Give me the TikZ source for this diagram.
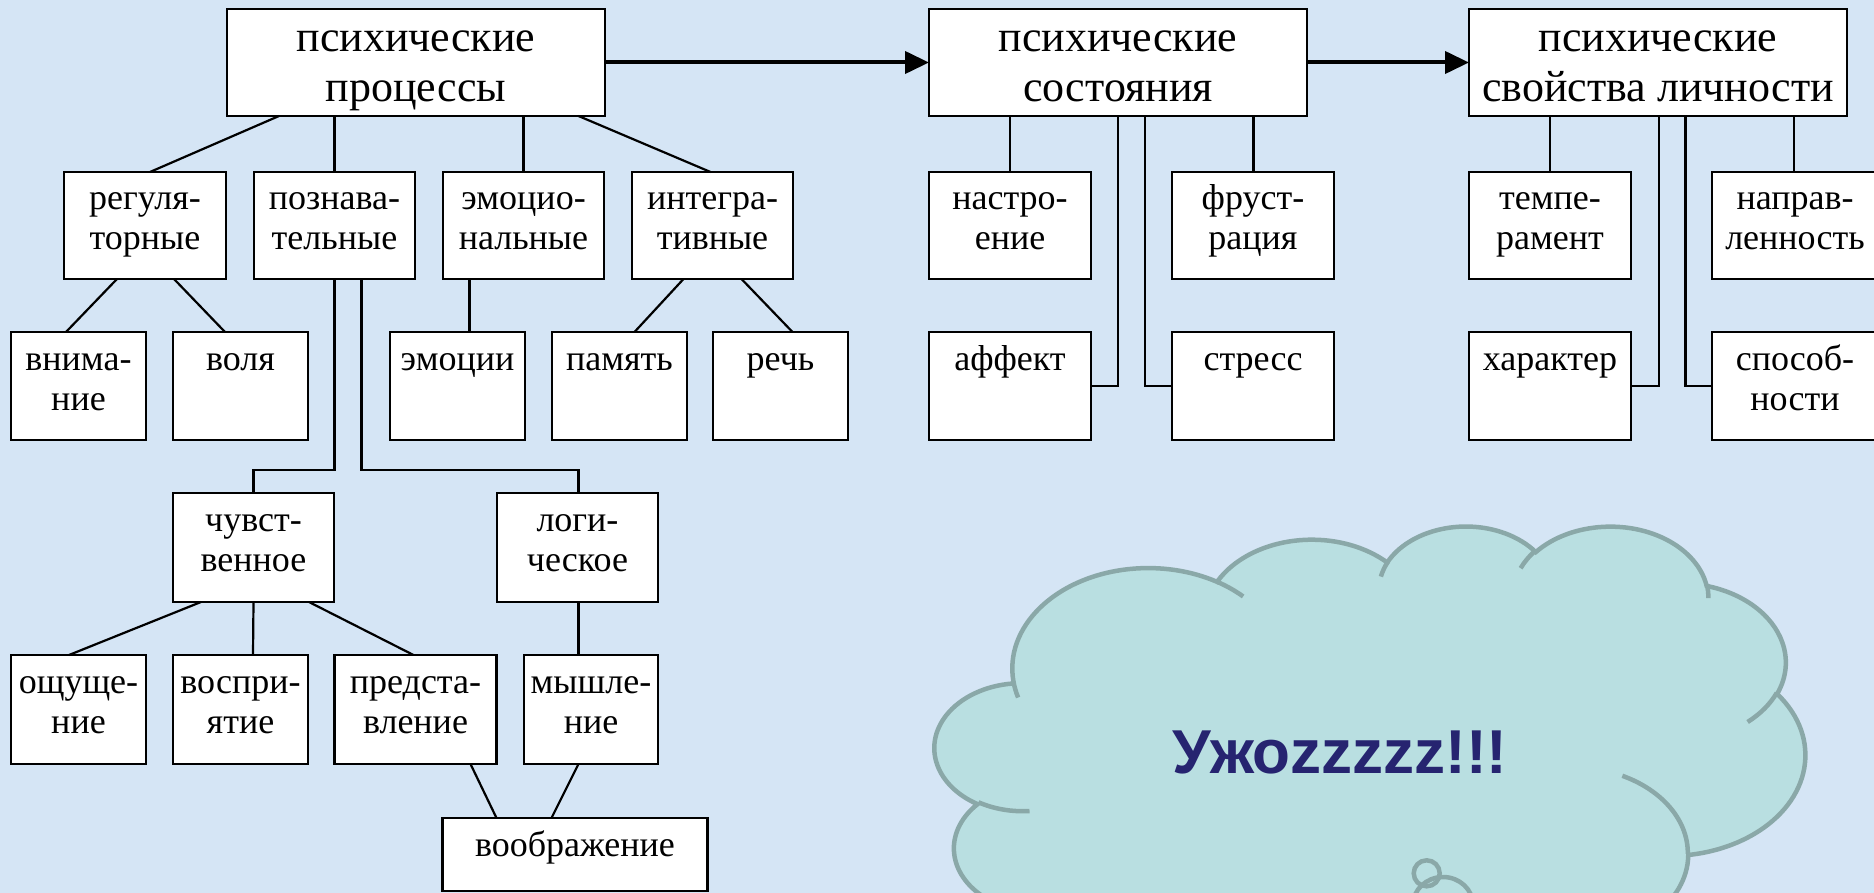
\documentclass[tikz,border=0pt]{standalone}
\usepackage{fontspec}
\setmainfont{Liberation Serif}
\newfontfamily\cloudfont{Liberation Sans}
\usetikzlibrary{arrows.meta,calc}
\definecolor{bg}{RGB}{213,229,245}
\definecolor{cloudfill}{RGB}{185,223,225}
\definecolor{cloudline}{RGB}{138,168,168}
\definecolor{navy}{RGB}{38,36,112}
\tikzset{
  bx/.style={draw=black, fill=white, line width=2.6pt, inner sep=0pt, outer sep=0pt, anchor=north west, font=\fontsize{36}{40}\selectfont},
  topbx/.style={bx, font=\fontsize{44}{50}\selectfont},
  ln/.style={line width=2.2pt},
  arr/.style={line width=4pt, -{Triangle[length=24pt,width=22pt]}},
  cl/.style={draw=cloudline, line width=4.5pt},
}
\newcommand\bt[3]{\parbox[t][#2pt][t]{#1pt}{\centering\rule{0pt}{38pt}#3}}
\newcommand\tbt[1]{\parbox[t][107pt][t]{378pt}{\centering\rule{0pt}{42.7pt}#1}}
\newcommand\carc[4]{arc[x radius=#1, y radius=#2, start angle={atan2(#1*sin(#3),#2*cos(#3))}, delta angle={mod(atan2(#1*sin(#3+#4),#2*cos(#3+#4))-atan2(#1*sin(#3),#2*cos(#3))+720,360)}]}
\begin{document}
\begin{tikzpicture}[x=1pt, y=-1pt]
\useasboundingbox (0,0) rectangle (1874,893);
\clip (0,0) rectangle (1874,893);
\fill[bg] (0,0) rectangle (1874,893);

% top row
\node[topbx] (A) at (227,9) {\tbt{психические\\процессы}};
\node[topbx] (B) at (929,9) {\tbt{психические\\состояния}};
\node[topbx] (C) at (1469,9) {\tbt{психические\\свойства личности}};

% row 2
\node[bx] (R1) at (64,172) {\bt{162}{107}{регуля-\\торные}};
\node[bx] (R2) at (254,172) {\bt{161}{107}{познава-\\тельные}};
\node[bx] (R3) at (443,172) {\bt{161}{107}{эмоцио-\\нальные}};
\node[bx] (R4) at (632,172) {\bt{161}{107}{интегра-\\тивные}};
\node[bx] (R5) at (929,172) {\bt{162}{107}{настро-\\ение}};
\node[bx] (R6) at (1172,172) {\bt{162}{107}{фруст-\\рация}};
\node[bx] (R7) at (1469,172) {\bt{162}{107}{темпе-\\рамент}};
\node[bx] (R8) at (1712,172) {\bt{166}{107}{направ-\\ленность}};

% row 3
\node[bx] (vn) at (11,332) {\bt{135}{108}{внима-\\ние}};
\node[bx] (vol) at (173,332) {\bt{135}{108}{воля}};
\node[bx] (emo) at (390,332) {\bt{135}{108}{эмоции}};
\node[bx] (pam) at (552,332) {\bt{135}{108}{память}};
\node[bx] (rech) at (713,332) {\bt{135}{108}{речь}};
\node[bx] (aff) at (929,332) {\bt{162}{108}{аффект}};
\node[bx] (str) at (1172,332) {\bt{162}{108}{стресс}};
\node[bx] (har) at (1469,332) {\bt{162}{108}{характер}};
\node[bx] (spos) at (1712,332) {\bt{166}{108}{способ-\\ности}};

% row 4
\node[bx] (chuv) at (173,493) {\bt{161}{109}{чувст-\\венное}};
\node[bx] (logi) at (497,493) {\bt{161}{109}{логи-\\ческое}};

% row 5
\node[bx] (osh) at (11,655) {\bt{135}{109}{ощуще-\\ние}};
\node[bx] (vosp) at (173,655) {\bt{135}{109}{воспри-\\ятие}};
\node[bx] (pred) at (334.5,655) {\bt{162}{109}{предста-\\вление}};
\node[bx] (mysh) at (524,655) {\bt{134}{109}{мышле-\\ние}};

% row 6
\node[bx] (voob) at (442.5,818) {\bt{265}{73}{воображение}};

% arrows
\draw[arr] (A.east) -- (B.west);
\draw[arr] (B.east) -- (C.west);

% connectors
\draw[ln] ([xshift=52pt]A.south west) -- ([xshift=86pt]R1.north west);
\draw[ln] ([xshift=107.5pt]A.south west) -- ([xshift=80.5pt]R2.north west);
\draw[ln] ([xshift=296.5pt]A.south west) -- ([xshift=80.5pt]R3.north west);
\draw[ln] ([xshift=351.5pt]A.south west) -- ([xshift=78.5pt]R4.north west);
\draw[ln] ([xshift=53pt]R1.south west) -- ([xshift=55pt]vn.north west);
\draw[ln] ([xshift=110pt]R1.south west) -- ([xshift=52pt]vol.north west);
\draw[ln] ([xshift=80.5pt]R2.south west) -- ++(0,191) -| ([xshift=80.5pt]chuv.north west);
\draw[ln] ([xshift=107.5pt]R2.south west) -- ++(0,191) -| ([xshift=81.5pt]logi.north west);
\draw[ln] ([xshift=26.5pt]R3.south west) -- ([xshift=79.5pt]emo.north west);
\draw[ln] ([xshift=51.5pt]R4.south west) -- ([xshift=82.5pt]pam.north west);
\draw[ln] ([xshift=109.5pt]R4.south west) -- ([xshift=79.5pt]rech.north west);
\draw[ln] ([xshift=81pt]B.south west) -- ([xshift=81pt]R5.north west);
\draw[ln] ([xshift=189.3pt]B.south west) |- (aff.east);
\draw[ln] ([xshift=216.1pt]B.south west) |- (str.west);
\draw[ln] ([xshift=324.4pt]B.south west) -- ([xshift=81.4pt]R6.north west);
\draw[ln] ([xshift=80.7pt]C.south west) -- ([xshift=80.7pt]R7.north west);
\draw[ln] ([xshift=190.2pt]C.south west) |- (har.east);
\draw[ln] ([xshift=216.4pt]C.south west) |- (spos.west);
\draw[ln] ([xshift=325.3pt]C.south west) -- ([xshift=82.3pt]R8.north west);
\draw[ln] ([xshift=28pt]chuv.south west) -- ([xshift=58pt]osh.north west);
\draw[ln] ([xshift=80.5pt]chuv.south west) -- ([xshift=80pt]vosp.north west);
\draw[ln] ([xshift=136pt]chuv.south west) -- ([xshift=79pt]pred.north west);
\draw[ln] ([xshift=81.5pt]logi.south west) -- ([xshift=54.5pt]mysh.north west);
\draw[ln] ([xshift=136pt]pred.south west) -- ([xshift=54pt]voob.north west);
\draw[ln] ([xshift=54.5pt]mysh.south west) -- ([xshift=109pt]voob.north west);

% cloud
\begin{scope}[shift={(935,525)}, x=20.139pt, y=-10.926pt]
\draw[cl, fill=cloudfill] (3.9,14.37)
  \carc{6.753}{9.19}{-190.48748}{123.78053}
  \carc{5.333}{7.267}{-144.10238}{89.94523}
  \carc{4.365}{5.945}{-145.80792}{99.72302}
  \carc{4.857}{6.595}{-130.98607}{117.24173}
  \carc{5.333}{7.273}{-78.70888}{109.02692}
  \carc{6.775}{9.22}{-46.26725}{130.269}
  \carc{5.785}{7.867}{0.62502}{114.03333}
  \carc{6.752}{9.215}{22.4516}{115.17255}
  \carc{7.72}{10.543}{66.24263}{75.71102}
  \carc{4.36}{5.918}{-274.94208}{146.73557}
  \carc{4.345}{5.945}{-246.8285}{152.51885}
  -- cycle;
\draw[cl]
  (4.693,26.177) \carc{4.345}{5.945}{86.742}{26.4295}
  (6.928,34.899) \carc{4.36}{5.918}{73.61047}{11.44747}
  (16.478,39.09) \carc{6.752}{9.215}{137.62415}{14.0811}
  (28.827,34.751) \carc{6.752}{9.215}{6.45327}{15.99835}
  (34.129,22.954) \carc{5.785}{7.867}{-70.29235}{70.91737}
  (41.798,15.354) \carc{5.333}{7.273}{30.31803}{27.7515}
  (38.324,5.426) \carc{4.857}{6.595}{-13.74433}{14.8589}
  (29.078,3.952) \carc{4.857}{6.595}{-149.18145}{18.19537}
  (22.141,4.72) \carc{4.365}{5.945}{-163.49427}{17.68635}
  (14.0,5.192) \carc{6.753}{9.19}{-66.70695}{12.31935}
  (4.127,15.789) \carc{6.753}{9.19}{157.65435}{11.85817};
\end{scope}
\draw[cl] (1426.7,873.3) circle[radius=13];
\draw[cl] (1443,905) ellipse[x radius=30, y radius=28];

\node[font=\cloudfont\bfseries\fontsize{62}{70}\selectfont, text=navy, anchor=base] (uzh) at (1340,773) {Ужоzzzzz!!!};
\end{tikzpicture}
\end{document}
